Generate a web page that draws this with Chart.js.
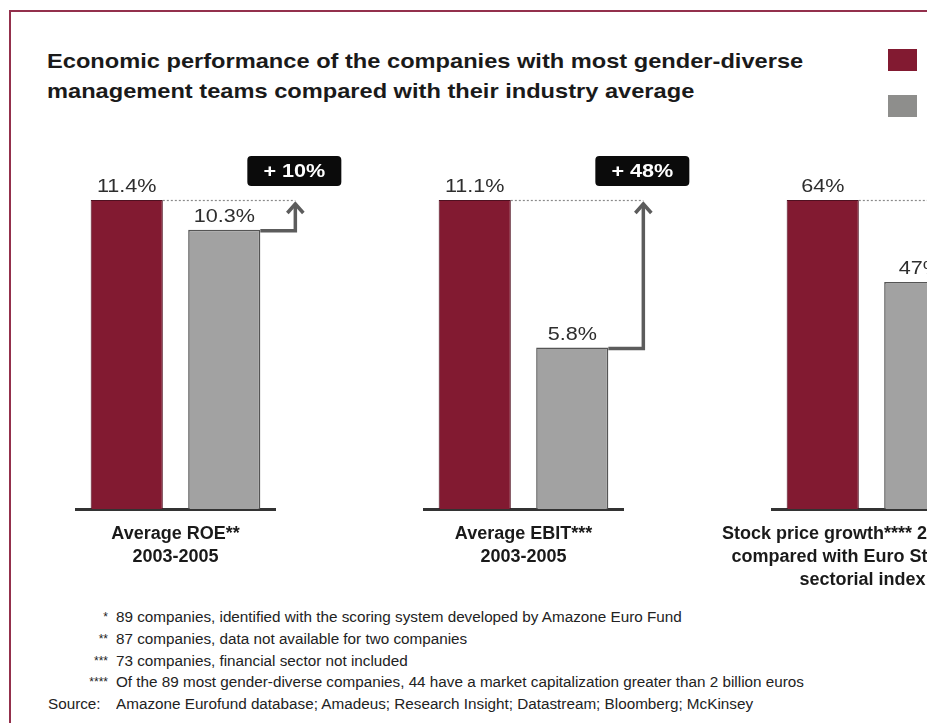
<!DOCTYPE html>
<html>
<head>
<meta charset="utf-8">
<script src="https://cdn.jsdelivr.net/npm/chart.js@4.4.1/dist/chart.umd.min.js"></script>
<style>
  html, body { margin: 0; padding: 0; background: #fff; }
  body { width: 927px; height: 723px; overflow: hidden; position: relative; font-family: 'Liberation Sans', Arial, sans-serif; }
  .frame { position: absolute; left: 9px; top: 10px; width: 1000px; height: 800px; border: 2px solid #93304c; box-sizing: border-box; }
  .title { position: absolute; left: 47px; top: 46px; font-size: 21px; font-weight: bold; line-height: 30px; color: #1a1a1a; white-space: nowrap; transform: scaleX(1.125); transform-origin: 0 0; }
  .legend-sq { position: absolute; left: 888px; width: 29px; height: 22px; }
  .legend-txt { position: absolute; left: 928px; font-size: 16px; color: #333; white-space: nowrap; }
  .chartbox { position: absolute; top: 140px; width: 400px; height: 460px; }
  .note { position: absolute; font-size: 14px; color: #222; white-space: nowrap; line-height: 16px; transform: scaleX(1.09); transform-origin: 0 0; }
  .mark { position: absolute; font-size: 12px; color: #222; text-align: right; width: 60px; line-height: 16px; }
</style>
</head>
<body>
<div class="frame"></div>
<div class="title">Economic performance of the companies with most gender-diverse<br>management teams compared with their industry average</div>
<div class="legend-sq" style="top:49px;background:#821a31"></div>
<div class="legend-sq" style="top:95px;background:#8e8e8c"></div>
<div class="legend-txt" style="top:50px">Gender-diverse companies*</div>
<div class="legend-txt" style="top:96px">Industry average</div>

<div class="chartbox" style="left:-4px"><canvas id="c0" width="400" height="460"></canvas></div>
<div class="chartbox" style="left:344px"><canvas id="c1" width="400" height="460"></canvas></div>
<div class="chartbox" style="left:692px"><canvas id="c2" width="400" height="460"></canvas></div>

<div id="notes"></div>

<script>
// data
const categories = [
  ['Average ROE**', '2003-2005'],
  ['Average EBIT***', '2003-2005'],
  ['Stock price growth**** 2005-2007', 'compared with Euro Stoxx 600', 'sectorial index']
];
const diverseValues = [11.4, 11.1, 64];
const industryValues = [10.3, 5.8, 47];
const gainLabels = ['+ 10%', '+ 48%', '+ 36%'];
const seriesNames = ['Gender-diverse companies*', 'Industry average'];

const noteMarks = ['*', '**', '***', '****', 'Source:'];
const noteTexts = [
  '89 companies, identified with the scoring system developed by Amazone Euro Fund',
  '87 companies, data not available for two companies',
  '73  companies, financial sector not included',
  'Of the 89 most gender-diverse companies, 44 have a market capitalization greater than 2 billion euros',
  'Amazone Eurofund database; Amadeus; Research Insight; Datastream; Bloomberg; McKinsey'
];

// footnotes
const notesEl = document.getElementById('notes');
noteTexts.forEach((t, i) => {
  const y = 609 + i * 21.8;
  const m = document.createElement('div');
  const isSource = noteMarks[i] === 'Source:';
  m.className = 'mark';
  m.style.top = y + 'px';
  m.style.left = '48px';
  m.style.textAlign = isSource ? 'left' : 'right';
  m.style.fontSize = isSource ? '14px' : '12px';
  if (isSource) { m.style.transform = 'scaleX(1.09)'; m.style.transformOrigin = '0 0'; }
  m.textContent = noteMarks[i];
  notesEl.appendChild(m);
  const n = document.createElement('div');
  n.className = 'note';
  n.style.top = y + 'px';
  n.style.left = '116px';
  n.textContent = t;
  notesEl.appendChild(n);
});

// text drawn slightly stretched, like the source picture
function wideText(ctx, text, x, y, sx) {
  ctx.save();
  ctx.translate(x, y);
  ctx.scale(sx, 1);
  ctx.fillText(text, 0, 0);
  ctx.restore();
}

// arrows, value labels and gain boxes
const annotate = {
  id: 'annotate',
  afterDatasetsDraw(chart) {
    const ctx = chart.ctx;
    const i = chart.options.groupIndex;
    const red = chart.getDatasetMeta(0).data[0];
    const gray = chart.getDatasetMeta(1).data[0];
    const redRight = red.x + red.width / 2;
    const grayRight = gray.x + gray.width / 2;
    const ax = grayRight + 35;

    ctx.save();
    // value labels
    ctx.font = '18px "Liberation Sans", Arial, sans-serif';
    ctx.fillStyle = '#2e2e2e';
    ctx.textAlign = 'center';
    ctx.textBaseline = 'alphabetic';
    wideText(ctx, diverseValues[i] + '%', red.x, red.y - 8, 1.2);
    wideText(ctx, industryValues[i] + '%', gray.x, gray.y - 8, 1.2);

    // dotted reference line
    ctx.strokeStyle = '#8a8a8a';
    ctx.lineWidth = 1.2;
    ctx.setLineDash([2, 2]);
    ctx.beginPath();
    ctx.moveTo(redRight, red.y + 0.5);
    ctx.lineTo(ax, red.y + 0.5);
    ctx.stroke();
    ctx.setLineDash([]);

    // elbow arrow
    ctx.strokeStyle = '#5c5c5c';
    ctx.lineWidth = 3.5;
    ctx.lineJoin = 'miter';
    ctx.beginPath();
    ctx.moveTo(grayRight, gray.y + 1);
    ctx.lineTo(ax, gray.y + 1);
    ctx.lineTo(ax, red.y + 4);
    ctx.stroke();
    ctx.beginPath();
    ctx.moveTo(ax - 8, red.y + 13);
    ctx.lineTo(ax, red.y + 4);
    ctx.lineTo(ax + 8, red.y + 13);
    ctx.stroke();

    // gain box
    const bx = ax - 48, by = red.y - 44, bw = 94, bh = 30;
    ctx.fillStyle = '#0b0b0b';
    ctx.beginPath();
    ctx.roundRect(bx, by, bw, bh, 4);
    ctx.fill();
    ctx.fillStyle = '#fff';
    ctx.font = 'bold 18px "Liberation Sans", Arial, sans-serif';
    ctx.textBaseline = 'middle';
    wideText(ctx, gainLabels[i], bx + bw / 2, by + bh / 2 + 1, 1.2);
    ctx.restore();
  }
};

function makeGroup(i) {
  return new Chart(document.getElementById('c' + i), {
    type: 'bar',
    data: {
      labels: [categories[i]],
      datasets: [
        {
          label: seriesNames[0],
          data: [diverseValues[i]],
          backgroundColor: '#821a31',
          borderColor: '#4f1020',
          borderWidth: 1
        },
        {
          label: seriesNames[1],
          data: [industryValues[i]],
          backgroundColor: '#a2a2a2',
          borderColor: '#555',
          borderWidth: 1.5
        }
      ]
    },
    options: {
      groupIndex: i,
      responsive: false,
      animation: false,
      devicePixelRatio: 1,
      categoryPercentage: 0.98,
      barPercentage: 0.74,
      layout: { padding: { left: 80, right: 121, top: 60, bottom: 0 } },
      scales: {
        x: {
          grid: { display: false, drawTicks: false },
          border: { display: true, color: '#333', width: 3 },
          ticks: {
            color: '#1a1a1a',
            padding: 13,
            labelOffset: i === 2 ? -9 : 0,
            font: { family: '"Liberation Sans", Arial, sans-serif', size: 18, weight: 'bold', lineHeight: 1.3 }
          },
          afterFit(scale) {
            // wide labels may spill into the page margin instead of narrowing the bars
            scale.height = 91;
            scale.paddingLeft = 0;
            scale.paddingRight = 0;
          }
        },
        y: { display: false, min: 0, max: diverseValues[i] }
      },
      plugins: {
        legend: { display: false },
        tooltip: { enabled: false }
      }
    },
    plugins: [annotate]
  });
}

[0, 1, 2].forEach(makeGroup);
</script>
</body>
</html>
